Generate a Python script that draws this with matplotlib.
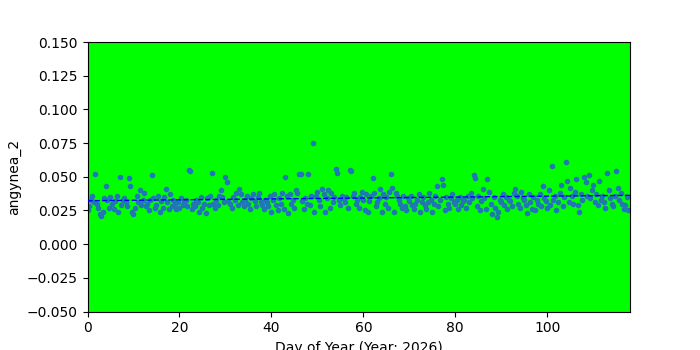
import numpy as np
import matplotlib
matplotlib.use("Agg")
import matplotlib.pyplot as plt

# three readings per day (x1000)
readings_per_day = 3
values_milli = [
    25, 28, 33, 36, 31, 52, 30, 27, 22, 21, 24, 34, 43, 33, 27,
    35, 30, 26, 32, 36, 24, 50, 29, 33, 34, 31, 28, 49, 43, 24,
    22, 27, 36, 31, 40, 29, 33, 38, 28, 30, 25, 33, 51, 34, 27,
    29, 36, 24, 32, 27, 35, 41, 31, 26, 37, 28, 33, 30, 26, 31,
    27, 34, 29, 31, 33, 28, 55, 54, 26, 30, 28, 33, 31, 24, 35,
    27, 30, 23, 34, 29, 36, 53, 30, 27, 33, 29, 36, 40, 35, 31,
    50, 46, 32, 30, 27, 35, 33, 38, 29, 41, 37, 31, 28, 33, 36,
    30, 26, 34, 37, 32, 28, 35, 38, 31, 29, 26, 33, 31, 28, 36,
    24, 33, 37, 29, 25, 34, 30, 38, 26, 50, 36, 23, 37, 30, 33,
    27, 40, 38, 52, 52, 32, 26, 34, 30, 52, 29, 36, 75, 24, 36,
    39, 33, 28, 41, 37, 24, 34, 40, 27, 38, 31, 35, 56, 53, 33,
    29, 36, 34, 31, 35, 27, 55, 54, 36, 38, 30, 33, 27, 35, 39,
    33, 25, 37, 24, 32, 36, 49, 38, 28, 31, 34, 41, 24, 37, 30,
    35, 27, 39, 52, 42, 24, 38, 36, 33, 30, 27, 36, 28, 25, 34,
    32, 36, 29, 26, 30, 33, 37, 24, 31, 35, 29, 26, 31, 38, 33,
    24, 30, 36, 43, 28, 33, 48, 44, 25, 35, 30, 27, 34, 37, 31,
    30, 33, 26, 35, 29, 32, 33, 27, 36, 31, 38, 34, 51, 49, 28,
    36, 25, 32, 41, 34, 26, 48, 39, 30, 22, 35, 27, 20, 24, 33,
    31, 37, 29, 35, 26, 33, 32, 28, 38, 41, 36, 30, 27, 39, 34,
    33, 29, 23, 37, 31, 26, 35, 25, 33, 30, 37, 28, 43, 34, 32,
    27, 40, 29, 58, 33, 36, 25, 31, 38, 44, 28, 35, 61, 47, 31,
    42, 36, 30, 39, 48, 29, 24, 37, 33, 50, 46, 36, 51, 34, 40,
    44, 31, 37, 29, 47, 33, 36, 31, 27, 53, 40, 34, 30, 28, 36,
    54, 42, 33, 38, 30, 26, 29, 35, 25,
]
trend_days = [0, 118]
trend_vals = [0.0322, 0.0362]

vals = np.array(values_milli) / 1000.0
days = np.arange(len(vals)) / readings_per_day

fig, ax = plt.subplots(figsize=(7, 3.5), dpi=100)
ax.set_facecolor('#00ff00')
ax.scatter(days, vals, s=9, color='tab:blue', zorder=2)
ax.plot(trend_days, trend_vals, 'b--', linewidth=1, zorder=3)

ax.set_xlim(0, 118)
ax.set_ylim(-0.05, 0.15)
ax.set_xlabel("Day of Year (Year: 2026)")
ax.set_ylabel("angynea_2")

plt.savefig("out.png", dpi=100)
